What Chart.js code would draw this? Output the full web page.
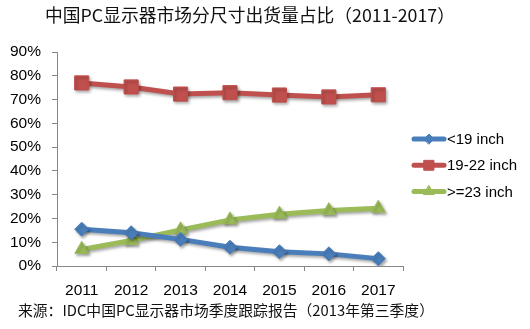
<!DOCTYPE html>
<html>
<head>
<meta charset="utf-8">
<script src="https://cdn.jsdelivr.net/npm/chart.js@4/dist/chart.umd.min.js"></script>
<style>
  html,body{margin:0;padding:0;background:#fff;}
  #wrap{width:530px;height:329px;}
</style>
</head>
<body>
<div id="wrap"><canvas id="chart" width="530" height="329"></canvas></div>
<script>
// data (percent)
const years = ['2011','2012','2013','2014','2015','2016','2017'];
const under19 = [15.5, 14.0, 11.2, 7.9, 6.0, 5.1, 3.1];
const from19to22 = [77.0, 75.3, 72.3, 72.9, 71.9, 71.1, 72.0];
const over23 = [7.0, 10.7, 15.2, 19.4, 21.8, 23.3, 24.3];
const seriesNames = ['<19 inch', '19-22 inch', '>=23 inch'];
const yTicks = [0,10,20,30,40,50,60,70,80,90];

const titleText = '中国PC显示器市场分尺寸出货量占比（2011-2017）';
const sourceText = '来源：IDC中国PC显示器市场季度跟踪报告（2013年第三季度）';

const blue = '#4a7ebb', red = '#c0504d', green = '#9bbb59';
const axisGrey = '#868686';
const latin = '"Liberation Sans", Arial, sans-serif';
const cjk = '"Noto Sans CJK SC", "Liberation Sans", sans-serif';

// soft drop shadow like the office chart
const shadowPlugin = {
  id: 'shadow',
  beforeDatasetsDraw(chart){
    const c = chart.ctx;
    c.save();
    c.shadowColor = 'rgba(0,0,0,0.35)';
    c.shadowBlur = 3;
    c.shadowOffsetX = 1.5;
    c.shadowOffsetY = 2;
  },
  afterDatasetsDraw(chart){ chart.ctx.restore(); }
};

// title + source note, placed where the original has them
const texts = {
  id: 'texts',
  afterDraw(chart){
    const c = chart.ctx;
    c.save();
    c.fillStyle = '#111';
    c.textBaseline = 'middle';
    c.textAlign = 'left';
    c.font = '17.8px ' + cjk;
    c.fillText(titleText, 45, 15);
    c.font = '14.8px ' + cjk;
    c.fillText(sourceText, 18, 310);
    c.restore();
  }
};

// legend: short line with marker, like the original
const lineLegend = {
  id: 'lineLegend',
  afterDraw(chart){
    const c = chart.ctx;
    chart.data.datasets.forEach(function(ds, i){
      const y = 139 + i*26.3;
      c.save();
      c.strokeStyle = ds.borderColor;
      c.lineWidth = 5;
      c.lineCap = 'round';
      c.beginPath();
      c.moveTo(414, y);
      c.lineTo(444, y);
      c.stroke();
      c.fillStyle = ds.borderColor;
      c.strokeStyle = ds.borderColor;
      c.lineWidth = 1;
      Chart.helpers.drawPoint(c, {pointStyle: ds.pointStyle, radius: ds.legendRadius, rotation: 0, borderWidth: 1}, 429, y);
      c.fillStyle = '#000';
      c.font = '15px ' + latin;
      c.textBaseline = 'middle';
      c.textAlign = 'left';
      c.fillText(ds.label, 447, y + 1);
      c.restore();
    });
  }
};

new Chart(document.getElementById('chart'), {
  type: 'line',
  data: {
    labels: years,
    datasets: [
      {label: seriesNames[0], data: under19, borderColor: blue, backgroundColor: blue,
       pointStyle: 'rectRot', pointRadius: 7, legendRadius: 5},
      {label: seriesNames[1], data: from19to22, borderColor: red, backgroundColor: red,
       pointStyle: 'rect', pointRadius: 10, legendRadius: 7},
      {label: seriesNames[2], data: over23, borderColor: green, backgroundColor: green,
       pointStyle: 'triangle', pointRadius: 8, legendRadius: 6}
    ]
  },
  options: {
    responsive: false,
    animation: false,
    devicePixelRatio: 1,
    layout: {padding: {left: 0, right: 127, top: 52, bottom: 30}},
    elements: {
      line: {borderWidth: 5, tension: 0},
      point: {borderWidth: 1, hoverRadius: 8}
    },
    plugins: {
      legend: {display: false},
      tooltip: {enabled: false},
      title: {display: false}
    },
    scales: {
      x: {
        offset: true,
        afterFit(scale){ scale.height = 33; },
        grid: {offset: true, drawOnChartArea: false, drawTicks: true, tickLength: 5, color: axisGrey},
        border: {color: axisGrey, width: 1},
        ticks: {color: '#000', padding: 10, font: {family: latin, size: 15.5}}
      },
      y: {
        min: 0, max: 90,
        afterFit(scale){ scale.width = 57; },
        afterBuildTicks(scale){ scale.ticks = yTicks.map(v => ({value: v})); },
        grid: {drawOnChartArea: false, drawTicks: true, tickLength: 5, color: axisGrey},
        border: {color: axisGrey, width: 1},
        ticks: {color: '#000', padding: 11, font: {family: latin, size: 15.5},
                callback: v => v + '%'}
      }
    }
  },
  plugins: [shadowPlugin, texts, lineLegend]
});
</script>
</body>
</html>
